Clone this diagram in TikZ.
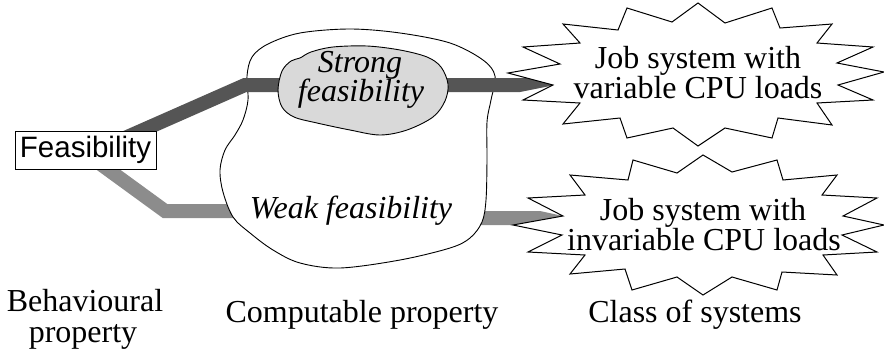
\documentclass[tikz,border=0pt]{standalone}
\usepackage{fontspec}
\setmainfont{Liberation Serif}
\setsansfont{Liberation Sans}
\definecolor{bandDark}{RGB}{85,85,85}
\definecolor{bandLight}{RGB}{140,140,140}
\definecolor{blobFill}{RGB}{217,217,217}
\tikzset{
  lbl/.style={font=\fontsize{32}{30}\selectfont, inner sep=0pt, anchor=base},
  ital/.style={font=\fontsize{32}{30}\selectfont\itshape, inner sep=0pt, anchor=base},
  blobline/.style={draw=black, line width=0.9pt},
  starline/.style={draw=black, fill=white, line width=1pt, line join=miter},
  darkband/.style={draw=bandDark, line width=14pt, line join=miter},
  lightband/.style={draw=bandLight, line width=14pt, line join=miter},
  featbox/.style={draw=black, fill=white, line width=0.9pt, inner sep=0pt,
    minimum width=141pt, minimum height=38pt, font=\sffamily\fontsize{29.5}{30}\selectfont}
}
\begin{document}
\begin{tikzpicture}[x=1pt,y=-1pt]
\useasboundingbox (0,0) rectangle (884,354);

% light band (weak)
\coordinate (lA) at (95,160);
\coordinate (lB) at (165,211);
\coordinate (lC) at (240,211);
\draw[lightband] (lA) -- (lB) -- (lC);
\coordinate (lR1) at (470,211);
\coordinate (lR2) at (540,211);
\coordinate (lTip) at (563,216);
\coordinate (lR3) at (522,225);
\coordinate (lR4) at (470,225);
\fill[bandLight] (lR1) -- (lR2) -- (lTip) -- (lR3) -- (lR4) -- cycle;

% outer blob (computable property)
\draw[blobline, fill=white] plot[smooth cycle, tension=0.55] coordinates {
  (247,76) (252,57) (268,44) (300,33) (350,29) (400,33) (450,43) (483,60) (495,76)
  (491,100) (487,122) (487,160) (486,200) (482,222) (470,238) (450,248) (400,260)
  (340,268) (300,263) (273,250) (250,233) (233,217) (223,192) (220,170) (225,150)
  (235,135) (243,120) (248,100)};

% dark band (strong)
\coordinate (dA) at (118,141);
\coordinate (dB) at (245,85);
\coordinate (dC) at (300,85);
\draw[darkband] (dA) -- (dB) -- (dC);
\coordinate (dR1) at (430,78);
\coordinate (dR2) at (527,78);
\coordinate (dTip) at (555,85);
\coordinate (dR3) at (520,92);
\coordinate (dR4) at (430,92);
\fill[bandDark] (dR1) -- (dR2) -- (dTip) -- (dR3) -- (dR4) -- cycle;

% inner blob (strong feasibility)
\draw[blobline, fill=blobFill] plot[smooth cycle, tension=0.55] coordinates {
  (278,90) (282,71) (291,61) (300,58) (311,52) (333,47) (367,46) (400,50) (427,57)
  (441,67) (448,84) (445,101) (433,117) (407,130) (380,135) (350,130) (317,123)
  (294,117) (282,107)};

\node[ital] (strong1) at (360,72) {Strong};
\node[ital] (strong2) at (361,101) {feasibility};
\node[ital] (weak) at (351,218) {Weak feasibility};

% feasibility box
\node[featbox] (feas) at (85.5,150) {Feasibility};

% star 1
\draw[starline] (698,3) -- (725,23) -- (772,8) -- (780,28) -- (832,24) -- (817,43)
  -- (873,47) -- (837,63) -- (884,72) -- (838,85) -- (873,100) -- (817,103)
  -- (832,125) -- (778,118) -- (772,138) -- (725,128) -- (698,146) -- (673,128)
  -- (627,138) -- (620,118) -- (563,124) -- (580,103) -- (523,100) -- (553,85)
  -- (508,73) -- (560,64) -- (523,47) -- (580,43) -- (563,24) -- (618,30)
  -- (627,8) -- (672,22) -- cycle;
\node[lbl] (var1) at (698,68) {Job system with};
\node[lbl] (var2) at (698,98) {variable CPU loads};

% star 2
\draw[starline] (703,155) -- (732,172) -- (777,160) -- (783,180) -- (837,175)
  -- (822,195) -- (877,198) -- (843,216) -- (884,225) -- (842,235) -- (877,252)
  -- (823,255) -- (837,275) -- (782,272) -- (777,290) -- (732,277) -- (703,295)
  -- (677,277) -- (632,290) -- (625,269) -- (570,274) -- (585,255) -- (528,252)
  -- (562,235) -- (513,225) -- (563,216) -- (528,198) -- (585,195) -- (570,175)
  -- (628,180) -- (633,160) -- (677,173) -- cycle;
\node[lbl] (inv1) at (703,220) {Job system with};
\node[lbl] (inv2) at (704,250) {invariable CPU loads};

% bottom labels
\node[lbl] (beh1) at (85,311) {Behavioural};
\node[lbl] (beh2) at (83,342) {property};
\node[lbl] (comp) at (362,322) {Computable property};
\node[lbl] (cls) at (695,322) {Class of systems};
\end{tikzpicture}
\end{document}
